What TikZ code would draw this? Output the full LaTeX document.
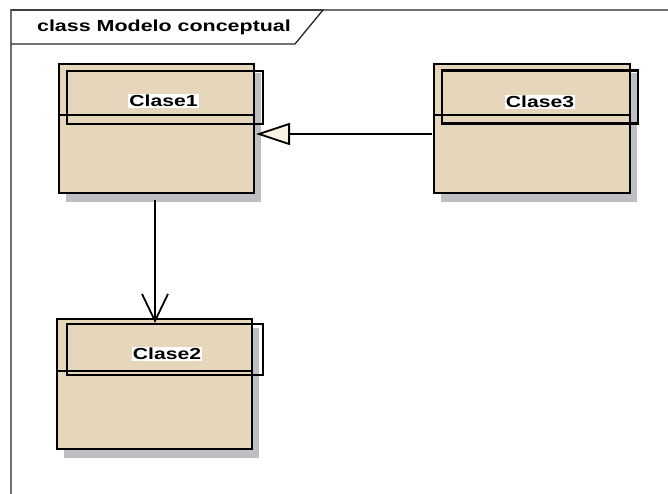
\documentclass[tikz,border=0pt]{standalone}
\usepackage{fontspec}
\setmainfont{Liberation Sans}
\usetikzlibrary{arrows.meta,shadows}
\definecolor{boxfill}{HTML}{E6D6BC}
\definecolor{shadowgray}{HTML}{BFBEC3}
\definecolor{trifill}{HTML}{FBF1E2}
\definecolor{framegray}{HTML}{707070}
\begin{document}
\begin{tikzpicture}[x=1pt,y=-1pt,
  classbox/.style={draw=black, line width=2.2pt, fill=boxfill, inner sep=0pt,
    minimum width=195pt, minimum height=129pt,
    drop shadow={shadow xshift=7pt, shadow yshift=-9pt, fill=shadowgray, opacity=1}},
  namebox/.style={draw=black, line width=2.2pt, inner sep=0pt, minimum width=196pt, minimum height=53pt},
  sepline/.style={draw=black, line width=1.6pt},
  classlabel/.style={fill=white, inner sep=1pt, font=\bfseries\fontsize{16}{18}\selectfont},
  conn/.style={draw=black, line width=1.8pt},
  framestyle/.style={draw=framegray, line width=1.5pt},
  tabstyle/.style={draw=black!85, line width=1.3pt}]
\useasboundingbox (0,0) rectangle (668,494);

% frame
\draw[framestyle] (11,494) -- (11,10) -- (668,10);
\draw[tabstyle] (11,10) -- (323,10) -- (295,44) -- (11,44);
\node[font=\bfseries\fontsize{16}{18}\selectfont, inner sep=0pt] (title) at (164,27) {\scalebox{1.34}[1]{class Modelo conceptual}};

% classes
\node[classbox] (c1) at (156.5,128.5) {};
\node[classbox, minimum width=196pt] (c3) at (532,128.5) {};
\node[classbox, minimum height=130pt] (c2) at (154.5,384) {};

\node[namebox] (n1) at (165,97.5) {};
\node[namebox] (n3) at (540,97) {};
\node[namebox, minimum height=51pt] (n2) at (165,349.5) {};

\coordinate (s1a) at (59,115); \coordinate (s1b) at (254,115);
\coordinate (s3a) at (434,115); \coordinate (s3b) at (630,115);
\coordinate (s2a) at (57,371); \coordinate (s2b) at (252,371);
\draw[sepline] (s1a) -- (s1b);
\draw[sepline] (s3a) -- (s3b);
\draw[sepline] (s2a) -- (s2b);

\node[classlabel] (l1) at (163.5,101) {\scalebox{1.32}[1]{Clase1}};
\node[classlabel] (l3) at (540,102) {\scalebox{1.32}[1]{Clase3}};
\node[classlabel] (l2) at (167,354) {\scalebox{1.32}[1]{Clase2}};

% connectors
\coordinate (a1) at (155,200);
\coordinate (a2) at (155,323);
\draw[conn, -{Straight Barb[length=27pt,width=26pt,line width=1.8pt]}] (a1) -- (a2);

\coordinate (g1) at (432,134);
\coordinate (g2) at (256,134);
\draw[conn, -{Triangle[length=34pt,width=22pt,fill=trifill,line width=1.8pt]}] (g1) -- (g2);
\end{tikzpicture}
\end{document}
